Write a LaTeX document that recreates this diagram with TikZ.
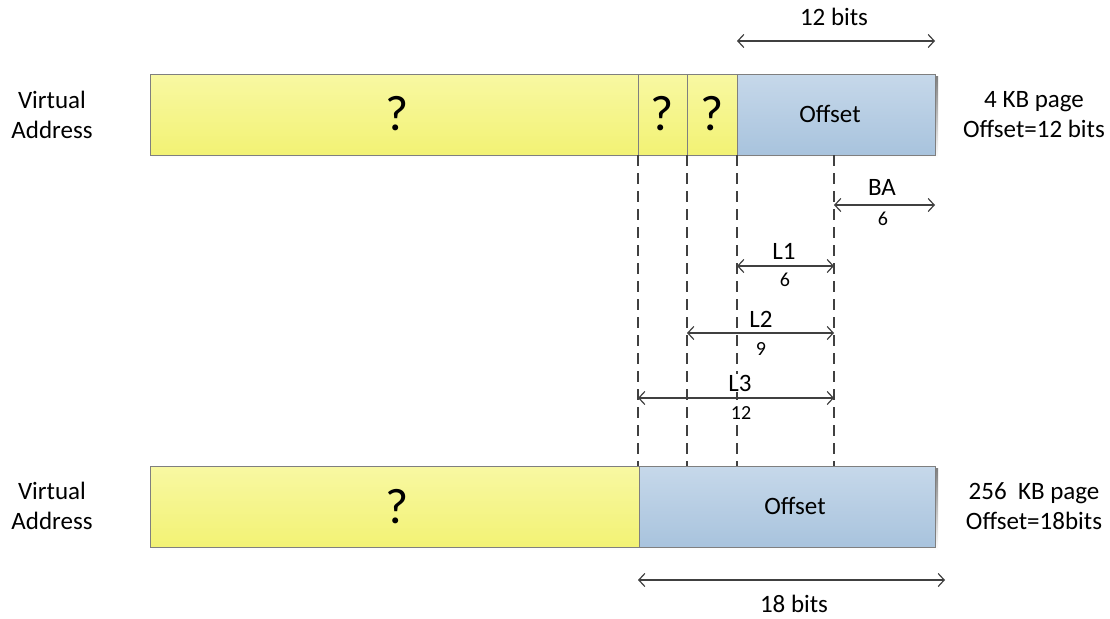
\documentclass[tikz,border=0pt]{standalone}
\usepackage{fontspec}
\setmainfont{Carlito}
\usetikzlibrary{arrows.meta}
\definecolor{ylwtop}{HTML}{F8F8A2}
\definecolor{ylwbot}{HTML}{F2F274}
\definecolor{blutop}{HTML}{C6D8EA}
\definecolor{blubot}{HTML}{A8C3DD}
\definecolor{edge}{HTML}{7F7F7F}
\definecolor{ink}{HTML}{404040}
\definecolor{shade}{HTML}{D8D8D8}
\tikzset{
  field/.style={rectangle, draw=edge, line width=0.8pt, minimum height=81pt, inner sep=0pt, anchor=north west},
  yfield/.style={field, top color=ylwtop, bottom color=ylwbot},
  bfield/.style={field, top color=blutop, bottom color=blubot},
  big/.style={font=\fontsize{50}{52}\selectfont},
  mid/.style={font=\fontsize{25}{30}\selectfont},
  lbl/.style={font=\fontsize{25}{30}\selectfont, align=center},
  small/.style={font=\fontsize{20}{22}\selectfont},
  guide/.style={draw=ink, line width=1.1pt, dash pattern=on 11pt off 7pt},
  dim/.style={draw=ink, line width=1.2pt, {Straight Barb[length=6pt,width=13pt]}-{Straight Barb[length=6pt,width=13pt]}},
}
\begin{document}
\begin{tikzpicture}[x=1pt,y=-1pt]
\useasboundingbox (0,0) rectangle (1110,618);
% shadows
\fill[shade] (152,76) rectangle (938,158);
\fill[shade] (152,468) rectangle (938,550);
% top bar
\node[yfield, minimum width=488pt] (t0) at (150,74) {};
\node[yfield, minimum width=49pt] (t1) at (638,74) {};
\node[yfield, minimum width=50pt] (t2) at (687,74) {};
\node[bfield, minimum width=198pt] (t3) at (737,74) {};
\node[big] at (397,114) {?};
\node[big] at (662,114) {?};
\node[big] at (712,114) {?};
\node[mid] at (830,114) {Offset};
% bottom bar
\node[yfield, minimum width=489pt] (b0) at (150,466) {};
\node[bfield, minimum width=296pt] (b1) at (639,466) {};
\node[big] at (397,507) {?};
\node[mid] at (795,506) {Offset};
% side labels
\node[lbl] (va1) at (52,115) {Virtual\\Address};
\node[lbl] (pg1) at (1034,115) {4 KB page\\Offset=12 bits};
\node[lbl] (va2) at (52,506) {Virtual\\Address};
\node[lbl] (pg2) at (1034,506) {256~ KB page\\Offset=18bits};
% guide coordinates
\coordinate (g0t) at (638,155); \coordinate (g0b) at (638,466);
\coordinate (g1t) at (687,155); \coordinate (g1b) at (687,466);
\coordinate (g2t) at (737,155); \coordinate (g2b) at (737,466);
\coordinate (g3t) at (834,155); \coordinate (g3b) at (834,466);
\draw[guide] (g0t) -- (g0b);
\draw[guide] (g1t) -- (g1b);
\draw[guide] (g2t) -- (g2b);
\draw[guide] (g3t) -- (g3b);
% dimension arrows
\coordinate (d12a) at (737,41); \coordinate (d12b) at (935,41);
\draw[dim] (d12a) -- (d12b);
\node[mid] (t12) at (834,17) {12 bits};
\coordinate (baa) at (834,205); \coordinate (bab) at (935,205);
\draw[dim] (baa) -- (bab);
\node[mid] (tba) at (882,187) {BA};
\node[small] (nba) at (883,219) {6};
\coordinate (l1a) at (737,266); \coordinate (l1b) at (834,266);
\draw[dim] (l1a) -- (l1b);
\node[mid] (tl1) at (784,251) {L1};
\node[small] (nl1) at (785,280) {6};
\coordinate (l2a) at (687,333); \coordinate (l2b) at (834,333);
\draw[dim] (l2a) -- (l2b);
\node[mid, fill=white, inner sep=1pt] (tl2) at (761,319) {L2};
\node[small, fill=white, inner sep=1pt] (nl2) at (761,349) {9};
\coordinate (l3a) at (638,398); \coordinate (l3b) at (834,398);
\draw[dim] (l3a) -- (l3b);
\node[mid, fill=white, inner sep=1pt] (tl3) at (740,383) {L3};
\node[small, fill=white, inner sep=1pt] (nl3) at (741,413) {12};
\coordinate (d18a) at (638,580); \coordinate (d18b) at (945,580);
\draw[dim] (d18a) -- (d18b);
\node[mid] (t18) at (794,604) {18 bits};
\end{tikzpicture}
\end{document}
